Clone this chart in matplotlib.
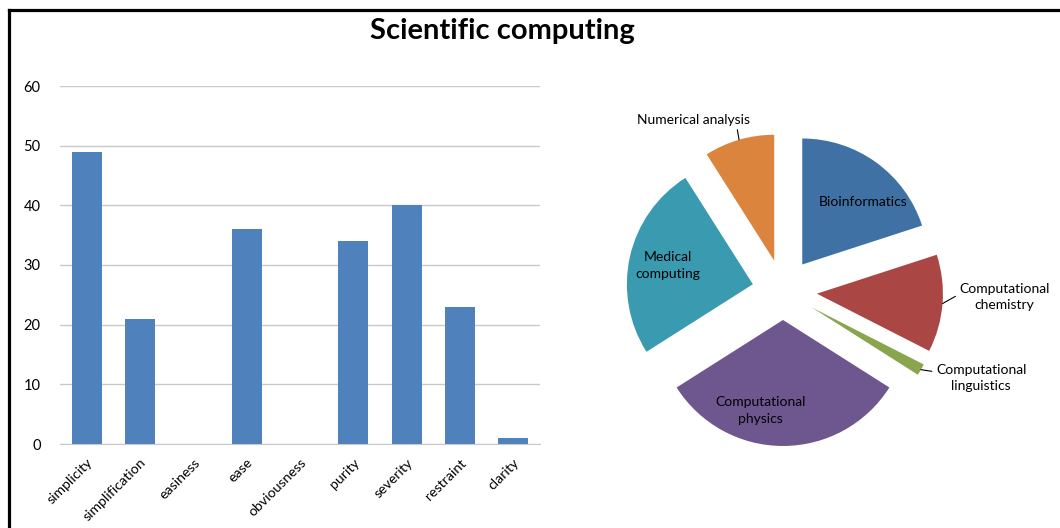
import matplotlib
matplotlib.use("Agg")
import matplotlib.pyplot as plt
import matplotlib.transforms as mtransforms
import numpy as np

# ── Data ──────────────────────────────────────────────────────────────────────

terms = ["simplicity", "simplification", "easiness", "ease", "obviousness",
         "purity", "severity", "restraint", "clarity"]
counts = [49, 21, 0, 36, 0, 34, 40, 23, 1]

fields = ["Bioinformatics", "Computational\nchemistry", "Computational\nlinguistics",
          "Computational\nphysics", "Medical\ncomputing", "Numerical analysis"]
shares = [20, 12.5, 1.5, 32, 25, 9]

FIELD_COLORS = ["#4071A5", "#AA4643", "#89A54E", "#6E568E", "#3A9AB0", "#DB843D"]
EXPLODE = [0.26, 0.27, 0.26, 0.23, 0.245, 0.25]

BAR_COLOR = "#4F81BD"
GRID_COLOR = "#C8C8C8"

plt.rcParams.update({
    "font.family": ["Lato", "DejaVu Sans"],
    "font.size": 10,
})

W, H = 1060, 528
fig = plt.figure(figsize=(W / 100, H / 100), dpi=100)

# ── Frame and title ───────────────────────────────────────────────────────────

fig.add_artist(plt.Line2D([9 / W, 9 / W], [0, 1 - 10 / H], color="black",
                          lw=2.3, transform=fig.transFigure, solid_capstyle="projecting"))
fig.add_artist(plt.Line2D([9 / W, 1], [1 - 10 / H, 1 - 10 / H], color="black",
                          lw=2.3, transform=fig.transFigure, solid_capstyle="projecting"))
fig.text(502 / W, 1 - 31 / H, "Scientific computing", ha="center", va="center",
         fontsize=21, fontweight="bold")

# ── Bar chart ─────────────────────────────────────────────────────────────────

ax = fig.add_axes([60 / W, (H - 444) / H, 480 / W, (444 - 86) / H])
x = np.arange(len(terms))
ax.bar(x, counts, width=0.56, color=BAR_COLOR, zorder=3)
ax.set_xlim(-0.5, len(terms) - 0.5)
ax.set_ylim(0, 60)
ax.set_yticks(range(0, 61, 10))
ax.set_xticks(x)
ax.set_xticklabels(terms, rotation=45, ha="right", va="top", rotation_mode="anchor")
shift = mtransforms.ScaledTranslation(8 / 100, 0, fig.dpi_scale_trans)
for lbl in ax.get_xticklabels():
    lbl.set_transform(lbl.get_transform() + shift)
ax.tick_params(axis="y", length=0, labelsize=10.5, pad=14)
ax.tick_params(axis="x", length=0, labelsize=10.2, pad=9)
ax.grid(True, axis="y", color=GRID_COLOR, lw=1, zorder=0)
for side in ["top", "right", "left"]:
    ax.spines[side].set_visible(False)
ax.spines["bottom"].set_color(GRID_COLOR)
ax.spines["bottom"].set_zorder(4)

# ── Exploded pie ──────────────────────────────────────────────────────────────

R_PX = 126
cx, cy = 783, 291
half = 200
pax = fig.add_axes([(cx - half) / W, (H - cy - half) / H, 2 * half / W, 2 * half / H])

wedges, _ = pax.pie(shares, colors=FIELD_COLORS, explode=EXPLODE, startangle=90,
                    counterclock=False, radius=1,
                    wedgeprops=dict(linewidth=0))
# pie() resets the limits, so fix the scale afterwards
pax.set_xlim(-half / R_PX, half / R_PX)
pax.set_ylim(-half / R_PX, half / R_PX)
pax.set_aspect("equal")
pax.axis("off")


def polar(w, ang, frac):
    cx0, cy0 = w.center
    a = np.deg2rad(ang)
    return cx0 + frac * w.r * np.cos(a), cy0 + frac * w.r * np.sin(a)


def mid(w):
    return (w.theta1 + w.theta2) / 2


# labels drawn inside the larger slices: (index, angle offset, radius fraction)
inside = [(0, -8, 0.69), (3, -14, 0.74), (4, 0, 0.69)]
for i, dang, frac in inside:
    px, py = polar(wedges[i], mid(wedges[i]) + dang, frac)
    pax.text(px, py, fields[i], ha="center", va="center", fontsize=10,
             linespacing=1.45)

# labels outside the slices, tied with a leader line:
# (index, angle offset, radius fraction, where the leader meets the text box)
outside = [(5, 13.5, 1.29, (0.88, 0.0)),
           (1, 3.5, 1.49, (0.0, 0.6)),
           (2, 7.0, 1.46, (0.0, 0.72))]
for i, dang, frac, rel in outside:
    w = wedges[i]
    tip = polar(w, mid(w), 1.0)
    txt = polar(w, mid(w) + dang, frac)
    pax.annotate(fields[i], xy=tip, xytext=txt, ha="center", va="center",
                 fontsize=10, linespacing=1.45, annotation_clip=False,
                 arrowprops=dict(arrowstyle="-", color="black", lw=0.8,
                                 shrinkA=1, shrinkB=0, relpos=rel))

fig.savefig("out.png", dpi=100)
